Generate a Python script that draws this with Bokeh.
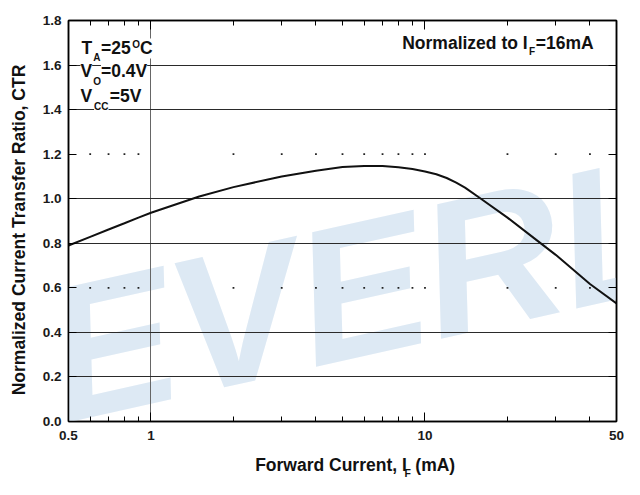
import math
from bokeh.plotting import figure
from bokeh.layouts import row, column
from bokeh.models import (FixedTicker, LogAxis, LinearAxis, Label, Range1d,
                          PrintfTickFormatter, CustomJSTickFormatter)
from bokeh.core.properties import value
from bokeh.embed import file_html
from bokeh.resources import INLINE

# ---- data ----
forward_current_ma = [0.5, 0.6, 0.7, 0.8, 0.9, 1.0, 1.5, 2, 3, 4, 5, 6, 7, 8, 9,
                      10, 11, 12, 13, 14, 16, 20, 25, 30, 40, 50]
normalized_ctr = [0.79, 0.829, 0.862, 0.89, 0.915, 0.937, 1.01, 1.052, 1.10, 1.126,
                  1.142, 1.147, 1.147, 1.141, 1.133, 1.122, 1.11, 1.093, 1.072, 1.05,
                  1.0, 0.915, 0.823, 0.748, 0.617, 0.53]

x_major_ticks = [0.5, 1, 10, 50]
x_tick_labels = ["0.5", "1", "10", "50"]
x_minor_ticks = [0.6, 0.7, 0.8, 0.9, 2, 3, 4, 5, 6, 7, 8, 9, 20, 30, 40]
y_ticks = [0.0, 0.2, 0.4, 0.6, 0.8, 1.0, 1.2, 1.4, 1.6, 1.8]
y_solid_grid = [0.2, 0.4, 0.8, 1.0, 1.4, 1.6]
y_dotted_grid = [0.6, 1.2]
x_solid_grid = [1]
dot_x_positions = x_minor_ticks + [10]

x_title_parts = ["Forward Current, I", "F", "(mA)"]
y_title = "Normalized Current Transfer Ratio, CTR"

# ---- layout: the reference (640x495) scaled to fit the page (624x479) ----
W, H = 624, 479
KX, KY = W / 640, H / 495
def SX(x): return x * KX
def SY(y): return y * KY

FONT = "Liberation Sans"
INK = "#111111"
YLAB_W = 37
FRAME_L, FRAME_R, FRAME_T, FRAME_B = 68, 616, 20, 421
P_W = W - YLAB_W                 # 587
P_H = 447
XLAB_H = H - P_H                 # 32
MID = 0.358                      # baseline -> text-centre offset (em)
F_BIG, F_SUB, F_TICK = 17.5, 10, 13.5

# ---------------- main plot ----------------
p = figure(width=P_W, height=P_H, x_axis_type="log",
           x_range=Range1d(0.5, 50), y_range=Range1d(0, 1.8),
           output_backend="svg", toolbar_location=None,
           min_border_left=FRAME_L - YLAB_W, min_border_right=W - FRAME_R,
           min_border_top=FRAME_T, min_border_bottom=P_H - FRAME_B)
p.background_fill_color = "white"
p.border_fill_color = "white"
p.outline_line_color = "black"
p.outline_line_width = 1.5

# watermark
p.add_layout(Label(x=SX(49) - FRAME_L, y=FRAME_B - SY(370),
                   x_units="screen", y_units="screen",
                   text="EVERLIGHT", angle=0.22, text_font=FONT,
                   text_font_size="192px", text_font_style="bold italic",
                   text_baseline="alphabetic", text_align="left",
                   text_color="#dde9f4", level="image"))

# grids
p.xgrid.ticker = FixedTicker(ticks=x_solid_grid)
p.xgrid.grid_line_color = "#666666"
p.xgrid.grid_line_width = 1
p.ygrid.ticker = FixedTicker(ticks=y_solid_grid)
p.ygrid.grid_line_color = "#2a2a2a"
p.ygrid.grid_line_width = 1

dot_x = [x for lvl in y_dotted_grid for x in dot_x_positions]
dot_y = [lvl for lvl in y_dotted_grid for x in dot_x_positions]
p.scatter(dot_x, dot_y, marker="square", size=1.8, color="#222222", line_width=0)

# curve
p.line(forward_current_ma, normalized_ctr, line_width=2, color=INK)

# axes
def style_axis(ax, major_in, minor_in):
    ax.axis_line_color = "black"
    ax.axis_line_width = 1.5
    ax.major_tick_in = major_in
    ax.major_tick_out = 0
    ax.minor_tick_in = minor_in
    ax.minor_tick_out = 0
    ax.major_tick_line_color = "black"
    ax.minor_tick_line_color = "black"
    ax.major_tick_line_width = 1
    ax.minor_tick_line_width = 1
    ax.major_label_text_font = FONT
    ax.major_label_text_font_size = f"{F_TICK}px"
    ax.major_label_text_font_style = "bold"
    ax.major_label_text_color = "#1a1a1a"

xa = p.xaxis[0]
xa.ticker = FixedTicker(ticks=x_major_ticks, minor_ticks=x_minor_ticks)
xa.formatter = CustomJSTickFormatter(code="return String(tick)")
xa.major_label_overrides = dict(zip(x_major_ticks, x_tick_labels))
style_axis(xa, 9, 5)
xa.major_label_standoff = 9

ya = p.yaxis[0]
ya.ticker = FixedTicker(ticks=y_ticks)
ya.formatter = PrintfTickFormatter(format="%.1f")
style_axis(ya, 8, 0)
ya.major_label_standoff = 7

blank = CustomJSTickFormatter(code="return ''")
top = LogAxis(ticker=FixedTicker(ticks=x_major_ticks, minor_ticks=x_minor_ticks),
              formatter=blank)
style_axis(top, 9, 5)
top.major_label_text_font_size = "0px"
top.major_label_standoff = 0
p.add_layout(top, "above")

right = LinearAxis(ticker=FixedTicker(ticks=y_ticks), formatter=blank)
style_axis(right, 8, 0)
right.major_label_text_font_size = "0px"
right.major_label_standoff = 0
p.add_layout(right, "right")

# in-frame texts: reference pixel (left edge, baseline) -> frame-relative screen units
def add_text(text, px, py, size, bg=False):
    kw = dict(background_fill_color="white") if bg else {}
    p.add_layout(Label(x=SX(px) - FRAME_L, y=FRAME_B - SY(py) + MID * size,
                       x_units="screen", y_units="screen", text=text,
                       text_font=FONT, text_font_size=f"{size}px",
                       text_font_style="bold", text_color=INK,
                       text_align="left", text_baseline="alphabetic", **kw))

add_text("T", 83, 56, F_BIG, True)
add_text("A", 95, 63, F_SUB, True)
add_text("=25", 103, 56, F_BIG, True)
add_text("O", 135, 49, F_SUB, True)
add_text("C", 143, 56, F_BIG, True)

add_text("V", 82, 79, F_BIG, True)
add_text("O", 95, 87, F_SUB, True)
add_text("=0.4V", 103, 79, F_BIG, True)

add_text("V", 82, 105, F_BIG, True)
add_text("CC", 96, 113, F_SUB, True)
add_text("=5V", 112, 105, F_BIG, True)

add_text("Normalized to I", 412, 50, F_BIG)
add_text("F", 542, 56, F_SUB)
add_text("=16mA", 549, 50, F_BIG)

# ---------------- axis title strips ----------------
def strip(w, h):
    f = figure(width=w, height=h, x_range=Range1d(0, w), y_range=Range1d(0, h),
               output_backend="svg", toolbar_location=None,
               min_border=0, min_border_left=0, min_border_right=0,
               min_border_top=0, min_border_bottom=0)
    f.axis.visible = False
    f.grid.visible = False
    f.outline_line_color = None
    f.background_fill_color = "white"
    f.border_fill_color = "white"
    return f

def strip_text(f, text, x, y, size, angle=0.0):
    f.text(x=[x], y=[y], text=[text], angle=angle, text_font=value(FONT),
           text_font_size=f"{size}px", text_font_style="bold", text_color=INK,
           text_align="left", text_baseline="alphabetic")

xlab = strip(P_W, XLAB_H)       # below the plot, page x 37..624
strip_text(xlab, x_title_parts[0], SX(243) - YLAB_W, H - SY(486) + MID * F_BIG, F_BIG)
strip_text(xlab, x_title_parts[1], SX(407) - YLAB_W, H - SY(492) + MID * 10.5, 10.5)
strip_text(xlab, x_title_parts[2], SX(419) - YLAB_W, H - SY(486) + MID * F_BIG, F_BIG)

ylab = strip(YLAB_W, H)         # left of the plot
strip_text(ylab, y_title, SX(25) - MID * F_BIG, H - SY(408), F_BIG, angle=math.pi / 2)

layout = row(ylab, column(p, xlab, spacing=0), spacing=0)

open("out.html", "w").write(file_html(layout, INLINE))
